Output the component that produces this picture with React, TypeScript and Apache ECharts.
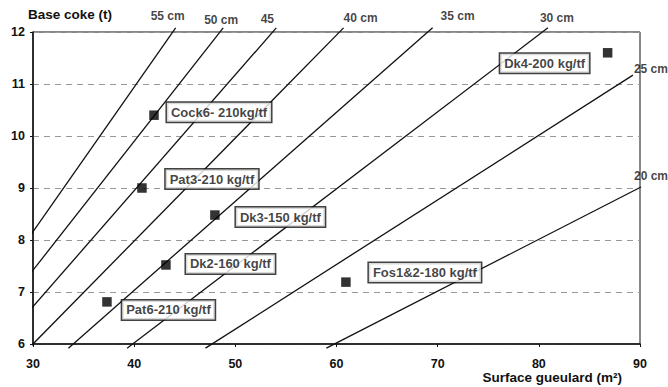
import React, { useEffect, useRef } from "react";
import * as echarts from "echarts";

// Axis ranges and ticks
const xMin = 30;
const xMax = 90;
const xInterval = 10;
const yMin = 6;
const yMax = 12;
const yInterval = 1;

// Iso-thickness lines of coke layer (endpoints)
const thicknessLabels = ["55 cm", "50 cm", "45", "40 cm", "35 cm", "30 cm", "25 cm", "20 cm"];
const lineStarts: number[][] = [
  [29.6, 8.05],
  [29.6, 7.32],
  [29.6, 6.63],
  [29.7, 5.94],
  [33.5, 5.92],
  [39.3, 5.92],
  [47.05, 5.92],
  [59.0, 5.92],
];
const lineEnds: number[][] = [
  [44.1, 12.08],
  [48.8, 12.08],
  [54.05, 12.08],
  [60.7, 12.08],
  [69.5, 12.08],
  [80.9, 12.08],
  [89.3, 11.17],
  [90.1, 9.02],
];

// Blast furnaces
const furnaceNames = [
  "Cock6- 210kg/tf",
  "Pat3-210 kg/tf",
  "Dk3-150 kg/tf",
  "Dk2-160 kg/tf",
  "Pat6-210 kg/tf",
  "Fos1&2-180 kg/tf",
  "Dk4-200 kg/tf",
];
const furnaceSurface = [41.96, 40.77, 47.98, 43.14, 37.31, 60.93, 86.8];
const furnaceCoke = [10.4, 9.0, 8.48, 7.52, 6.81, 7.19, 11.6];

// Label placements (styles, pixels)
const furnaceLabelOffsets: number[][] = [
  [65, -3],
  [70, -9],
  [65.5, 2],
  [64.5, -1],
  [61.5, 8],
  [79, -9.5],
  [-63, 10.5],
];
const lineLabelOffsets: number[][] = [
  [-8, -12],
  [-2, -8],
  [-9, -9],
  [17, -10],
  [25, -12],
  [9, -10],
  [18, -6],
  [10, -11],
];

const FONT = "'Liberation Sans', Arial, sans-serif";

export default function App() {
  const ref = useRef<HTMLDivElement>(null);

  useEffect(() => {
    if (!ref.current) return;
    const chart = echarts.init(ref.current, undefined, { renderer: "svg" });

    const lineSeries = thicknessLabels.map((name, i) => ({
      type: "line",
      name,
      data: [lineStarts[i], lineEnds[i]],
      showSymbol: false,
      symbol: "none",
      clip: false,
      silent: true,
      lineStyle: { color: "#111", width: 1.3 },
      z: 3,
    }));

    const lineLabelSeries = {
      type: "scatter",
      name: "lineLabels",
      data: thicknessLabels.map((name, i) => ({
        value: lineEnds[i],
        name,
        label: { offset: lineLabelOffsets[i] },
      })),
      symbol: "circle",
      symbolSize: 1,
      clip: false,
      silent: true,
      itemStyle: { color: "transparent" },
      label: {
        show: true,
        position: "inside",
        formatter: (p: any) => p.name,
        color: "#111",
        fontFamily: FONT,
        fontWeight: "bold",
        fontSize: 12,
      },
      z: 4,
    };

    const furnaceSeries = {
      type: "scatter",
      name: "furnaces",
      data: furnaceNames.map((name, i) => ({
        value: [furnaceSurface[i], furnaceCoke[i]],
        name,
        label: { offset: furnaceLabelOffsets[i] },
      })),
      symbol: "rect",
      symbolSize: 9.5,
      clip: false,
      silent: true,
      itemStyle: { color: "#000" },
      label: {
        show: true,
        position: "inside",
        formatter: (p: any) => p.name,
        color: "#111",
        fontFamily: FONT,
        fontWeight: "bold",
        fontSize: 13,
        lineHeight: 15,
        backgroundColor: "#fff",
        borderColor: "#111",
        borderWidth: 1.5,
        padding: [2, 4, 2, 4],
      },
      z: 5,
    };

    chart.setOption({
      animation: false,
      backgroundColor: "#fff",
      grid: {
        left: 33,
        right: 28,
        top: 32,
        bottom: 43,
        show: true,
        borderColor: "#111",
        borderWidth: 1,
        backgroundColor: "transparent",
      },
      xAxis: {
        type: "value",
        min: xMin,
        max: xMax,
        interval: xInterval,
        axisLine: { show: true, lineStyle: { color: "#111", width: 1.5 } },
        axisTick: { show: true, length: 3, lineStyle: { color: "#111" } },
        splitLine: { show: false },
        axisLabel: {
          color: "#111",
          fontFamily: FONT,
          fontWeight: "bold",
          fontSize: 12.5,
          margin: 13,
        },
      },
      yAxis: {
        type: "value",
        min: yMin,
        max: yMax,
        interval: yInterval,
        axisLine: { show: true, lineStyle: { color: "#111", width: 1.5 } },
        axisTick: { show: true, length: 3, lineStyle: { color: "#111" } },
        splitLine: {
          show: true,
          lineStyle: { color: "#999", type: [6, 5], width: 1 },
        },
        axisLabel: {
          color: "#111",
          fontFamily: FONT,
          fontWeight: "bold",
          fontSize: 12.5,
          margin: 8,
        },
      },
      graphic: [
        {
          type: "text",
          left: 28,
          top: 7,
          style: {
            text: "Base coke (t)",
            fill: "#111",
            font: `bold 13.5px ${FONT}`,
          },
        },
        {
          type: "text",
          right: 46,
          top: 370,
          style: {
            text: "Surface gueulard (m²)",
            fill: "#111",
            font: `bold 13.5px ${FONT}`,
          },
        },
      ],
      series: [...lineSeries, lineLabelSeries, furnaceSeries],
    });

    return () => chart.dispose();
  }, []);

  return (
    <div
      ref={ref}
      style={{ position: "fixed", left: 0, top: 0, width: 668, height: 387, background: "#fff" }}
    />
  );
}
